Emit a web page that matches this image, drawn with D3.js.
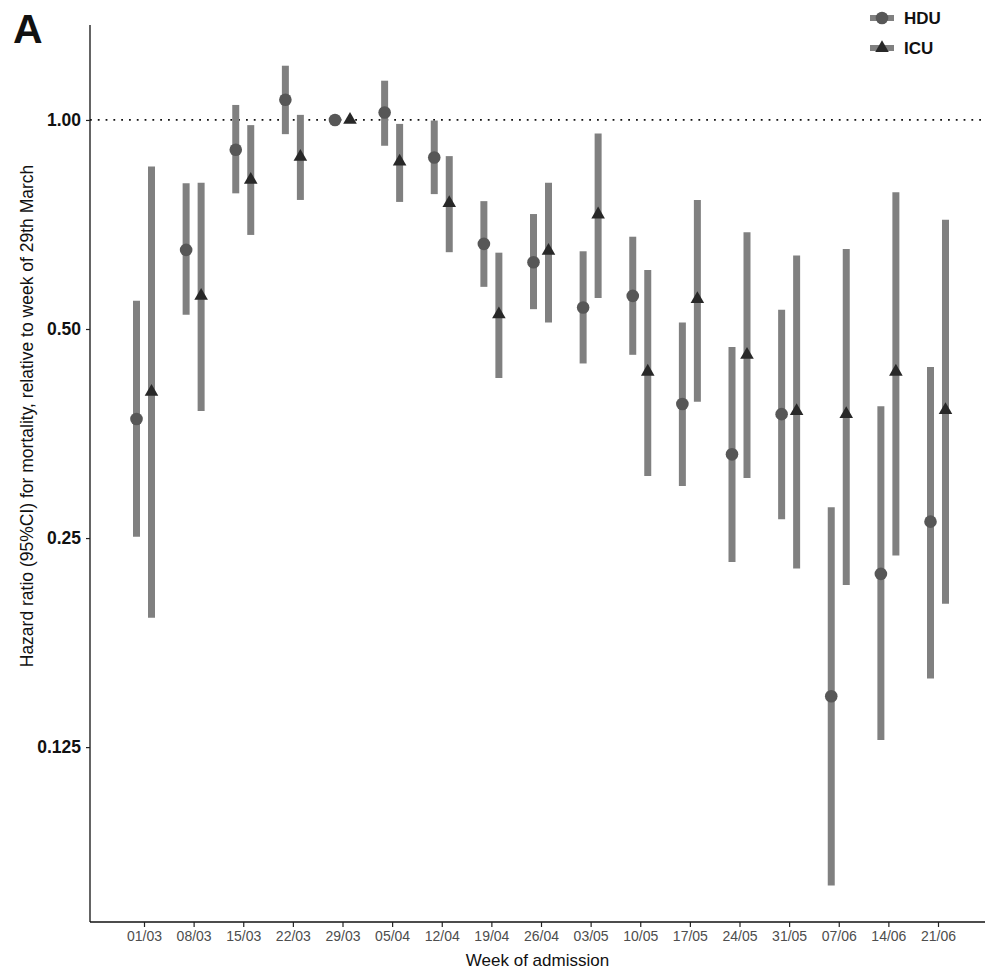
<!DOCTYPE html>
<html>
<head>
<meta charset="utf-8">
<script src="https://cdn.jsdelivr.net/npm/d3@7.8.5/dist/d3.min.js"></script>
<style>
  body { margin: 0; background: #fff; }
  svg { display: block; font-family: "Liberation Sans", Arial, sans-serif; }
</style>
</head>
<body>
<div id="chart"></div>
<script>
const WEEKS = ["01/03", "08/03", "15/03", "22/03", "29/03", "05/04", "12/04", "19/04", "26/04",
  "03/05", "10/05", "17/05", "24/05", "31/05", "07/06", "14/06", "21/06"];

// HDU hazard ratios with 95% CI
const HDU_HR = [0.371, 0.650, 0.906, 1.069, 1.000, 1.025, 0.883, 0.663, 0.624,
  0.537, 0.558, 0.390, 0.330, 0.377, 0.148, 0.222, 0.264];
const HDU_LO = [0.251, 0.524, 0.784, 0.954, null, 0.918, 0.782, 0.575, 0.534,
  0.446, 0.459, 0.297, 0.231, 0.266, 0.079, 0.128, 0.157];
const HDU_HI = [0.549, 0.811, 1.051, 1.197, null, 1.139, 0.998, 0.764, 0.732,
  0.647, 0.679, 0.511, 0.471, 0.533, 0.277, 0.387, 0.441];

// ICU hazard ratios with 95% CI
const ICU_HR = [0.406, 0.558, 0.820, 0.885, 1.000, 0.871, 0.759, 0.525, 0.648,
  0.731, 0.434, 0.552, 0.459, 0.381, 0.377, 0.434, 0.382];
const ICU_LO = [0.192, 0.381, 0.683, 0.767, null, 0.762, 0.645, 0.425, 0.511,
  0.554, 0.307, 0.393, 0.305, 0.226, 0.214, 0.236, 0.201];
const ICU_HI = [0.857, 0.812, 0.983, 1.017, null, 0.987, 0.887, 0.644, 0.812,
  0.956, 0.608, 0.767, 0.689, 0.638, 0.652, 0.787, 0.718];

const Y_TICKS = [0.125, 0.25, 0.5, 1];
const Y_TICK_LABELS = ["0.125", "0.25", "0.50", "1.00"];

const W = 985, H = 969;
const LEFT = 90, RIGHT = 985, TOP = 25, BOTTOM = 922;
const DODGE = 7.5;
const BAR_COLOR = "#808080";

const svg = d3.select("#chart").append("svg")
  .attr("width", W).attr("height", H);

const x = d3.scalePoint().domain(WEEKS).range([144, 938]);
const y = d3.scaleLog().base(2).domain([0.07, 1.37]).range([BOTTOM, TOP]);

const series = [
  { name: "HDU", hr: HDU_HR, lo: HDU_LO, hi: HDU_HI, dx: -DODGE, shape: "circle", fill: "#575757" },
  { name: "ICU", hr: ICU_HR, lo: ICU_LO, hi: ICU_HI, dx: DODGE, shape: "triangle", fill: "#282828" },
];

// reference line at HR = 1
svg.append("line")
  .attr("x1", LEFT).attr("x2", RIGHT)
  .attr("y1", y(1)).attr("y2", y(1))
  .attr("stroke", "#111").attr("stroke-width", 1.8)
  .attr("stroke-dasharray", "1.8,6");

const triangle = d3.symbol().type(d3.symbolTriangle).size(80);

series.forEach((s) => {
  const g = svg.append("g").attr("class", "series-" + s.name);
  WEEKS.forEach((w, i) => {
    const cx = x(w) + s.dx;
    if (s.lo[i] != null) {
      g.append("line")
        .attr("x1", cx).attr("x2", cx)
        .attr("y1", y(s.lo[i])).attr("y2", y(s.hi[i]))
        .attr("stroke", BAR_COLOR).attr("stroke-width", 7);
    }
    if (s.shape === "circle") {
      g.append("circle").attr("cx", cx).attr("cy", y(s.hr[i])).attr("r", 6.3).attr("fill", s.fill);
    } else {
      g.append("path").attr("d", triangle)
        .attr("transform", `translate(${cx},${y(s.hr[i])})`).attr("fill", s.fill);
    }
  });
});

// axes
svg.append("line").attr("x1", LEFT).attr("x2", LEFT).attr("y1", TOP).attr("y2", BOTTOM)
  .attr("stroke", "#111").attr("stroke-width", 1.3);
svg.append("line").attr("x1", LEFT).attr("x2", RIGHT).attr("y1", BOTTOM).attr("y2", BOTTOM)
  .attr("stroke", "#111").attr("stroke-width", 1.3);

const yAxis = svg.append("g").attr("transform", `translate(${LEFT},0)`)
  .call(d3.axisLeft(y).tickValues(Y_TICKS).tickSize(4).tickPadding(5)
    .tickFormat((d, i) => Y_TICK_LABELS[i]));
yAxis.select(".domain").remove();
yAxis.selectAll("line").attr("stroke", "#222").attr("stroke-width", 1.2);
yAxis.selectAll("text").attr("font-size", 17.5).attr("font-weight", "bold")
  .attr("fill", "#111").style("font-family", "Liberation Sans, Arial, sans-serif");

const xAxis = svg.append("g").attr("transform", `translate(0,${BOTTOM})`)
  .call(d3.axisBottom(x).tickSize(5).tickPadding(4));
xAxis.select(".domain").remove();
xAxis.selectAll("line").attr("stroke", "#222").attr("stroke-width", 1.2);
xAxis.selectAll("text").attr("font-size", 14).attr("fill", "#4d4d4d")
  .style("font-family", "Liberation Sans, Arial, sans-serif");

// axis titles
svg.append("text")
  .attr("x", (LEFT + RIGHT) / 2).attr("y", 966)
  .attr("text-anchor", "middle").attr("font-size", 17).attr("fill", "#111")
  .text("Week of admission");

svg.append("text")
  .attr("transform", "translate(33,416) rotate(-90)")
  .attr("text-anchor", "middle").attr("font-size", 17.5).attr("fill", "#111")
  .text("Hazard ratio (95%CI) for mortality, relative to week of 29th March");

// panel letter
svg.append("text").attr("x", 13).attr("y", 43)
  .attr("font-size", 41).attr("font-weight", "bold").attr("fill", "#111").text("A");

// legend
const legend = svg.append("g").attr("transform", "translate(870,0)");
series.forEach((s, i) => {
  const ly = 18 + i * 30;
  const lg = legend.append("g").attr("transform", `translate(0,${ly})`);
  lg.append("line").attr("x1", 0).attr("x2", 24).attr("y1", 0).attr("y2", 0)
    .attr("stroke", BAR_COLOR).attr("stroke-width", 6);
  if (s.shape === "circle") {
    lg.append("circle").attr("cx", 12).attr("cy", 0).attr("r", 6.3).attr("fill", s.fill);
  } else {
    lg.append("path").attr("d", triangle).attr("transform", "translate(12,0)").attr("fill", s.fill);
  }
  lg.append("text").attr("x", 34).attr("y", 0).attr("dy", "0.35em")
    .attr("font-size", 17).attr("font-weight", "bold").attr("fill", "#111").text(s.name);
});
</script>
</body>
</html>
